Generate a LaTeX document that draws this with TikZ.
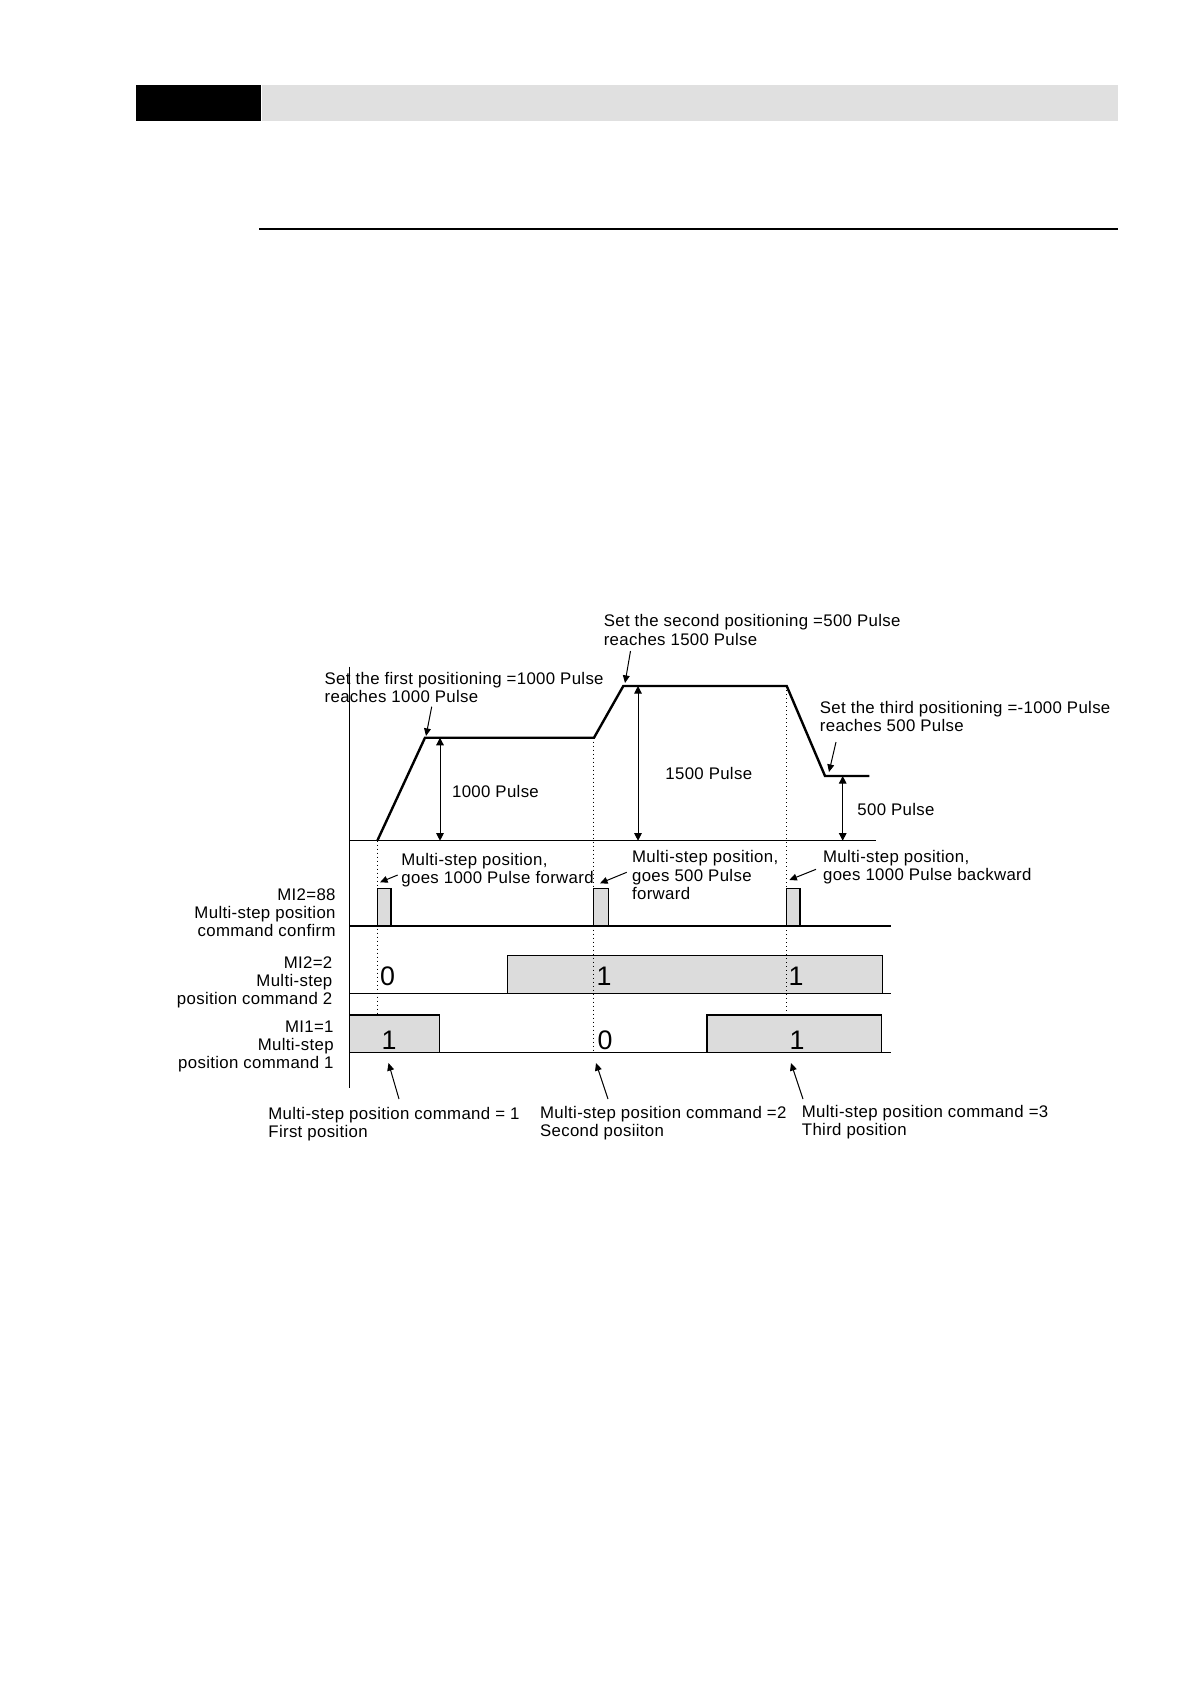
\documentclass[tikz,border=0pt]{standalone}
\usepackage{fontspec}
\setmainfont{Liberation Sans}[LetterSpace=2]
\usetikzlibrary{arrows.meta}
\definecolor{hdrgray}{HTML}{E0E0E0}
\definecolor{sgray}{HTML}{DCDCDC}
\newcommand\lblfont{\fontsize{8.4}{9.1}\selectfont}
\newcommand\digfont{\fontsize{13.4}{15}\selectfont}
\tikzset{
  lbl/.style={font=\lblfont, inner sep=0pt, align=left},
  rlbl/.style={font=\lblfont, inner sep=0pt, align=right, anchor=east},
  dig/.style={font=\digfont, inner sep=0pt},
  prof/.style={line width=1.2pt, line join=miter},
  axisline/.style={line width=0.6pt},
  rowline/.style={line width=0.6pt},
  dots/.style={line width=0.5pt, dash pattern=on 0.6pt off 1.4pt},
  sig/.style={draw, fill=sgray, line width=0.6pt},
  dbl/.style={{Triangle[length=3.8pt,width=3.8pt]}-{Triangle[length=3.8pt,width=3.8pt]}, line width=0.5pt},
  ptr/.style={-{Triangle[length=3.8pt,width=3.4pt]}, line width=0.5pt},
}
\begin{document}
\begin{tikzpicture}[x=0.5pt,y=-0.5pt]
\useasboundingbox (0,0) rectangle (1190,1684);
% header
\fill[black] (136,85) rectangle (261,121);
\fill[hdrgray] (262,85) rectangle (1118,121);
\draw[line width=1pt] (259,229.3) -- (1118,229.3);

% signal boxes
\draw[sig] (377.3,926) rectangle (391,888.3);
\draw[sig] (593.3,926) rectangle (608.3,888.3);
\draw[sig] (786.7,926) rectangle (800,888.3);
\draw[sig] (507.3,993.3) rectangle (882.3,955.7);
\draw[sig] (349.3,1052.7) rectangle (439.3,1015);
\draw[sig] (707,1052.7) rectangle (881.3,1015);

% axes and row lines
\draw[axisline] (349.3,666.7) -- (349.3,1088);
\draw[axisline] (349.3,840.7) -- (876,840.7);
\draw[rowline] (349.3,926) -- (890.7,926);
\draw[rowline] (349.3,993.3) -- (890.7,993.3);
\draw[rowline] (349.3,1052.7) -- (890.7,1052.7);

% dotted markers
\draw[dots] (377.3,840.7) -- (377.3,1013);
\draw[dots] (593.3,737.7) -- (593.3,1052.7);
\draw[dots] (786.7,686) -- (786.7,1013);

% position profile
\coordinate (q0) at (377.3,840.7);
\coordinate (q1) at (425,737.7);
\coordinate (q2) at (594,737.7);
\coordinate (q3) at (623.3,686);
\coordinate (q4) at (786.7,686);
\coordinate (q5) at (825,776);
\coordinate (q6) at (869.3,776);
\draw[prof] (q0) -- (q1) -- (q2) -- (q3) -- (q4) -- (q5) -- (q6);

% dimension arrows
\coordinate (h1t) at (440,737.7);   \coordinate (h1b) at (440,840.7);
\coordinate (h2t) at (638,686);     \coordinate (h2b) at (638,840.7);
\coordinate (h3t) at (842.7,776);   \coordinate (h3b) at (842.7,840.7);
\draw[dbl] (h1t) -- (h1b);
\draw[dbl] (h2t) -- (h2b);
\draw[dbl] (h3t) -- (h3b);
\node[lbl, anchor=west] (p1) at (451.7,791) {1000 Pulse};
\node[lbl, anchor=west] (p2) at (665,773.3) {1500 Pulse};
\node[lbl, anchor=west] (p3) at (857,809.3) {500 Pulse};

% top annotations
\node[lbl, anchor=west] (t1) at (324.3,687.2) {Set the first positioning =1000 Pulse\\reaches 1000 Pulse};
\node[lbl, anchor=west] (t2) at (603.4,630) {Set the second positioning =500 Pulse\\reaches 1500 Pulse};
\node[lbl, anchor=west] (t3) at (819.5,716.7) {Set the third positioning =-1000 Pulse\\reaches 500 Pulse};
\coordinate (a1s) at (431.7,706.7); \coordinate (a1e) at (426,736);
\coordinate (a2s) at (630.5,651);   \coordinate (a2e) at (625,683);
\coordinate (a3s) at (836,742);     \coordinate (a3e) at (829,772);
\draw[ptr] (a1s) -- (a1e);
\draw[ptr] (a2s) -- (a2e);
\draw[ptr] (a3s) -- (a3e);

% middle annotations
\node[lbl, anchor=west] (m1) at (401,870.5) {Multi-step position,\\goes 1000 Pulse forward};
\node[lbl, anchor=west] (m2) at (631.7,875) {Multi-step position,\\goes 500 Pulse\\forward};
\node[lbl, anchor=west] (m3) at (822.7,867.5) {Multi-step position,\\goes 1000 Pulse backward};
\coordinate (b1s) at (397.7,875);  \coordinate (b1e) at (380,882.3);
\coordinate (b2s) at (626.7,872.3); \coordinate (b2e) at (600,883.3);
\coordinate (b3s) at (816,869.3);  \coordinate (b3e) at (789.3,880);
\draw[ptr] (b1s) -- (b1e);
\draw[ptr] (b2s) -- (b2e);
\draw[ptr] (b3s) -- (b3e);

% row labels
\node[rlbl] (r1) at (336,912.7) {MI2=88\\Multi-step position\\command confirm};
\node[rlbl] (r2) at (332.7,982.3) {MI2=2\\Multi-step\\position command 2};
\node[rlbl] (r3) at (334,1046.7) {MI1=1\\Multi-step\\position command 1};

% signal values
\node[dig] (d1) at (387.5,976.7) {0};
\node[dig] (d2) at (604,976.7) {1};
\node[dig] (d3) at (796,976.7) {1};
\node[dig] (d4) at (389,1040) {1};
\node[dig] (d5) at (605,1040) {0};
\node[dig] (d6) at (797,1040) {1};

% bottom annotations
\node[lbl, anchor=west] (c1) at (268,1124) {Multi-step position command = 1\\First position};
\node[lbl, anchor=west] (c2) at (539.7,1123) {Multi-step position command =2\\Second posiiton};
\node[lbl, anchor=west] (c3) at (801.5,1122.5) {Multi-step position command =3\\Third position};
\coordinate (c1s) at (399,1099); \coordinate (c1e) at (388.5,1063);
\coordinate (c2s) at (608,1099); \coordinate (c2e) at (596,1063);
\coordinate (c3s) at (803,1099); \coordinate (c3e) at (791,1063);
\draw[ptr] (c1s) -- (c1e);
\draw[ptr] (c2s) -- (c2e);
\draw[ptr] (c3s) -- (c3e);
\end{tikzpicture}
\end{document}
